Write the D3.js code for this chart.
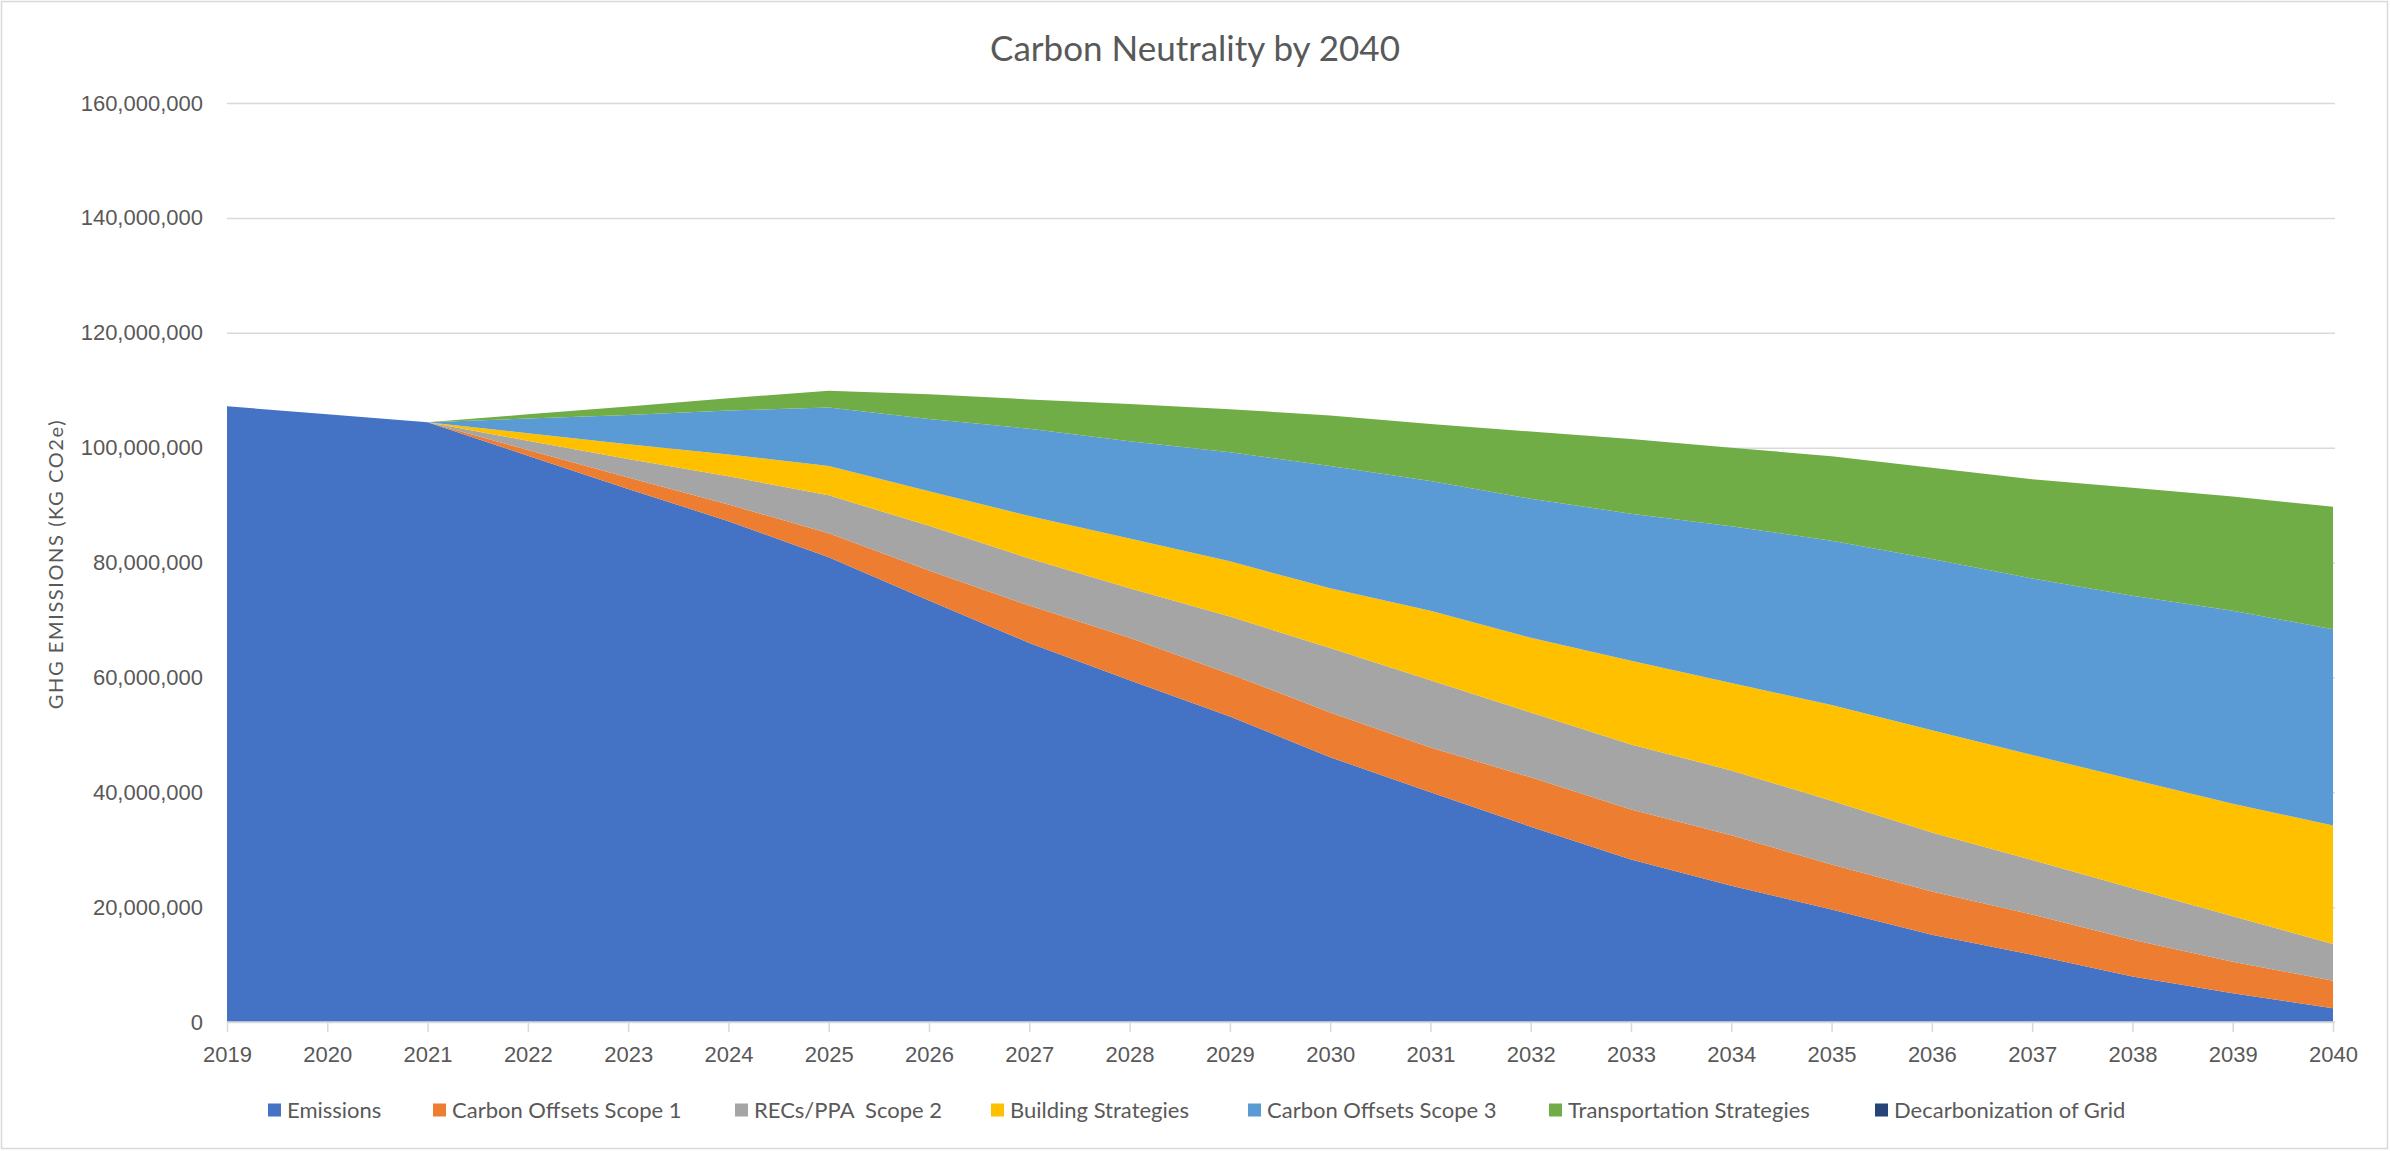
<!DOCTYPE html>
<html>
<head>
<meta charset="utf-8">
<script src="https://cdn.jsdelivr.net/npm/d3@7"></script>
<style>
  html, body { margin: 0; padding: 0; background: #fff; }
  svg { display: block; font-family: Lato, "Open Sans", sans-serif; }
</style>
</head>
<body>
<figure id="chart" style="margin:0"></figure>
<script>
// years on the category axis
const years = ["2019","2020","2021","2022","2023","2024","2025","2026","2027","2028","2029",
  "2030","2031","2032","2033","2034","2035","2036","2037","2038","2039","2040"];

// series values (kg CO2e)
const emissions = [107.2e6,105.8e6,104.4e6,98.6e6,92.8e6,87.2e6,80.9e6,73.4e6,66.0e6,59.5e6,53.2e6,
  46.1e6,40.0e6,34.0e6,28.3e6,23.7e6,19.6e6,15.2e6,11.7e6,7.9e6,5.0e6,2.4e6];
const offsetsScope1 = [0,0,0,1.0e6,2.0e6,2.9e6,4.2e6,5.2e6,6.5e6,7.4e6,7.4e6,
  7.8e6,7.8e6,8.6e6,8.7e6,8.8e6,7.8e6,7.5e6,7.0e6,6.4e6,5.5e6,4.8e6];
const recsScope2 = [0,0,0,1.6e6,3.2e6,4.9e6,6.6e6,7.8e6,8.2e6,8.6e6,10.0e6,
  11.2e6,11.7e6,11.3e6,11.3e6,11.3e6,11.1e6,10.3e6,9.5e6,9.0e6,7.9e6,6.4e6];
const buildingStrategies = [0,0,0,1.3e6,2.6e6,3.8e6,5.1e6,6.0e6,7.4e6,8.7e6,9.6e6,
  10.4e6,12.1e6,13.0e6,14.6e6,15.2e6,16.7e6,17.8e6,18.3e6,18.9e6,19.6e6,20.6e6];
const offsetsScope3 = [0,0,0,2.55e6,5.1e6,7.65e6,10.2e6,12.6e6,15.2e6,16.9e6,19.0e6,
  21.3e6,22.6e6,24.2e6,25.6e6,27.3e6,28.6e6,29.8e6,30.7e6,32.0e6,33.6e6,34.2e6];
const transportStrategies = [0,0,0,0.75e6,1.45e6,2.15e6,2.9e6,4.3e6,5.1e6,6.5e6,7.5e6,
  8.8e6,9.9e6,11.7e6,13.0e6,13.7e6,14.7e6,15.9e6,17.3e6,18.8e6,19.9e6,21.3e6];
const gridDecarbonization = [0,0,0,0,0,0,0,0,0,0,0,0,0,0,0,0,0,0,0,0,0,0];

const seriesNames = ["Emissions","Carbon Offsets Scope 1","RECs/PPA  Scope 2","Building Strategies",
  "Carbon Offsets Scope 3","Transportation Strategies","Decarbonization of Grid"];
const seriesValues = [emissions, offsetsScope1, recsScope2, buildingStrategies,
  offsetsScope3, transportStrategies, gridDecarbonization];
const seriesColors = ["#4472C4","#ED7D31","#A5A5A5","#FFC000","#5B9BD5","#70AD47","#264478"];

const yTicks = [0,20e6,40e6,60e6,80e6,100e6,120e6,140e6,160e6];

const width = 2390, height = 1151;
const plot = {left: 227, right: 2333, top: 103, bottom: 1022};
const textColor = "#595959";
const lineColor = "#d9d9d9";

// build rows for d3.stack
const rows = years.map((yr, i) => {
  const row = {year: yr};
  seriesNames.forEach((name, s) => row[name] = seriesValues[s][i]);
  return row;
});

const svg = d3.select("figure#chart")
  .append("svg")
  .attr("width", width)
  .attr("height", height);

// chart area border
svg.append("rect")
  .attr("x", 1.5).attr("y", 1.5)
  .attr("width", width - 4).attr("height", height - 4)
  .attr("fill", "#fff")
  .attr("stroke", lineColor)
  .attr("stroke-width", 1.5);

const x = d3.scalePoint()
  .domain(years)
  .range([plot.left, plot.right]);

const y = d3.scaleLinear()
  .domain([0, 160e6])
  .range([plot.bottom, plot.top]);

// horizontal gridlines + y labels
const yAxis = svg.append("g")
  .attr("transform", "translate(" + plot.left + ",0)")
  .call(d3.axisLeft(y)
    .tickValues(yTicks)
    .tickSize(-(plot.right - plot.left + 2))
    .tickPadding(24)
    .tickFormat(d3.format(",")));
yAxis.select(".domain").remove();
yAxis.selectAll(".tick line")
  .attr("stroke", lineColor)
  .attr("stroke-width", 1.5);
yAxis.selectAll(".tick text")
  .attr("fill", textColor)
  .style("font-size", "22px");

// stacked areas
const stack = d3.stack().keys(seriesNames);
const layers = stack(rows);

const area = d3.area()
  .x(d => x(d.data.year))
  .y0(d => y(d[0]))
  .y1(d => y(d[1]));

svg.append("g")
  .selectAll("path")
  .data(layers)
  .enter()
  .append("path")
  .attr("d", area)
  .attr("fill", (d, i) => seriesColors[i]);

// x axis
const xAxis = svg.append("g")
  .attr("transform", "translate(0," + plot.bottom + ")")
  .call(d3.axisBottom(x).tickSize(10).tickPadding(14));
xAxis.select(".domain")
  .attr("stroke", lineColor)
  .attr("stroke-width", 1.5)
  .attr("d", "M" + plot.left + ",0H" + (plot.right + 2));
xAxis.selectAll(".tick line")
  .attr("stroke", lineColor)
  .attr("stroke-width", 1.5);
xAxis.selectAll(".tick text")
  .attr("fill", textColor)
  .style("font-size", "22px");

// title
svg.append("text")
  .attr("x", 1195)
  .attr("y", 61)
  .attr("text-anchor", "middle")
  .attr("fill", textColor)
  .style("font-size", "35px")
  .text("Carbon Neutrality by 2040");

// y axis title
svg.append("text")
  .attr("transform", "translate(63,564) rotate(-90)")
  .attr("text-anchor", "middle")
  .attr("fill", textColor)
  .style("font-size", "20px")
  .style("letter-spacing", "1.6px")
  .text("GHG EMISSIONS (KG CO2e)");

// legend
const legendX = [268, 433, 735, 991, 1248, 1549, 1875];
const legend = svg.append("g")
  .selectAll("g")
  .data(seriesNames)
  .enter()
  .append("g")
  .attr("transform", (d, i) => "translate(" + legendX[i] + ",1110)");
legend.append("rect")
  .attr("x", 0).attr("y", -6.5)
  .attr("width", 13).attr("height", 13)
  .attr("fill", (d, i) => seriesColors[i]);
legend.append("text")
  .attr("x", 19)
  .attr("dy", "0.36em")
  .attr("fill", textColor)
  .style("font-size", "22px")
  .style("white-space", "pre")
  .text(d => d);
</script>
</body>
</html>
